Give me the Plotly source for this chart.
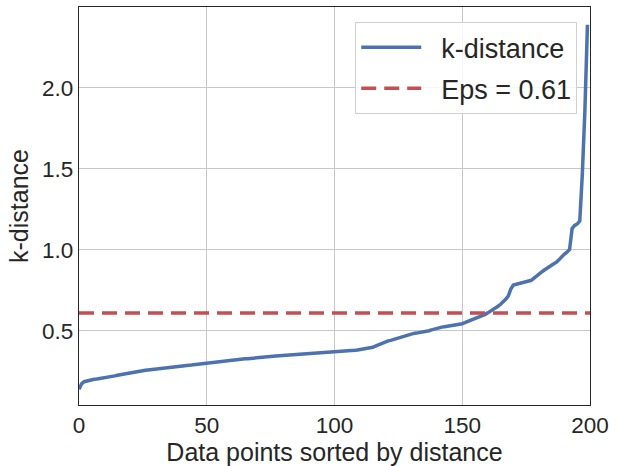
import numpy as np
import plotly.graph_objects as go

# Sorted k-nearest-neighbour distances, one per data point
k_distances = [
    0.140, 0.172, 0.186, 0.191, 0.196, 0.199, 0.201, 0.203, 0.205, 0.207,
    0.210, 0.213, 0.217, 0.219, 0.222, 0.226, 0.229, 0.234, 0.237, 0.240,
    0.242, 0.244, 0.246, 0.248, 0.251, 0.254, 0.256, 0.258, 0.260, 0.262,
    0.264, 0.267, 0.270, 0.272, 0.274, 0.276, 0.277, 0.279, 0.281, 0.283,
    0.284, 0.285, 0.287, 0.288, 0.289, 0.291, 0.292, 0.294, 0.295, 0.297,
    0.299, 0.302, 0.305, 0.308, 0.310, 0.312, 0.313, 0.314, 0.316, 0.318,
    0.319, 0.320, 0.321, 0.323, 0.325, 0.327, 0.328, 0.330, 0.331, 0.333,
    0.334, 0.336, 0.338, 0.340, 0.341, 0.342, 0.343, 0.344, 0.345, 0.346,
    0.347, 0.348, 0.349, 0.350, 0.351, 0.352, 0.353, 0.354, 0.355, 0.356,
    0.357, 0.358, 0.359, 0.360, 0.361, 0.362, 0.363, 0.364, 0.366, 0.368,
    0.369, 0.370, 0.371, 0.372, 0.373, 0.375, 0.376, 0.378, 0.380, 0.382,
    0.384, 0.386, 0.389, 0.392, 0.395, 0.399, 0.405, 0.412, 0.420, 0.428,
    0.434, 0.438, 0.441, 0.446, 0.451, 0.456, 0.462, 0.468, 0.474, 0.479,
    0.482, 0.484, 0.486, 0.488, 0.491, 0.494, 0.497, 0.501, 0.506, 0.511,
    0.516, 0.520, 0.523, 0.525, 0.527, 0.529, 0.531, 0.534, 0.537, 0.540,
    0.544, 0.550, 0.556, 0.562, 0.568, 0.573, 0.579, 0.586, 0.594, 0.602,
    0.611, 0.620, 0.630, 0.641, 0.652, 0.664, 0.678, 0.695, 0.714, 0.758,
    0.783, 0.788, 0.792, 0.797, 0.801, 0.805, 0.808, 0.812, 0.826, 0.840,
    0.851, 0.862, 0.874, 0.886, 0.897, 0.906, 0.916, 0.926, 0.944, 0.962,
    0.974, 0.986, 1.002, 1.132, 1.151, 1.160, 1.180, 1.470, 1.860, 2.390,
]
eps = 0.61
point_index = list(range(len(k_distances)))

x_ticks = [0, 50, 100, 150, 200]
y_ticks = [0.5, 1.0, 1.5, 2.0]

FONT = "Liberation Sans, Arial, sans-serif"
TEXT = "#262626"
PAD = "\u00a0\u00a0"  # spacing between legend sample and label

fig = go.Figure()
fig.add_trace(go.Scatter(
    x=point_index, y=k_distances, mode="lines", name=PAD + "k-distance",
    legendgroup="curve",
    line=dict(color="#4C72B0", width=3.5),
))
fig.add_trace(go.Scatter(
    x=[0, 200], y=[eps, eps], mode="lines", name=PAD + f"Eps = {eps}",
    legendgroup="eps",
    line=dict(color="#C44E52", width=3.5, dash="15px,8px"),
))

axis_common = dict(
    showline=True, linecolor="#262626", linewidth=1.2, mirror=True,
    showgrid=True, gridcolor="#c8c8c8", gridwidth=1,
    zeroline=False, ticks="",
    tickfont=dict(family=FONT, size=22.5, color=TEXT),
    title_font=dict(family=FONT, size=25, color=TEXT),
)

fig.update_xaxes(
    range=[0, 200], tickvals=x_ticks, ticktext=[str(v) for v in x_ticks],
    title_text="Data points sorted by distance", title_standoff=2,
    **axis_common,
)
fig.update_yaxes(
    range=[0.042, 2.5], tickvals=y_ticks, ticktext=[f"{v:.1f}" for v in y_ticks],
    title_text="k-distance", title_standoff=6,
    **axis_common,
)

fig.update_layout(
    width=622, height=466,
    margin=dict(l=79, r=32, t=7, b=61),
    plot_bgcolor="white", paper_bgcolor="white",
    font=dict(family=FONT, size=22.5, color=TEXT),
    legend=dict(
        x=0.975, y=0.962, xanchor="right", yanchor="top",
        bgcolor="rgba(255,255,255,0.85)", bordercolor="#d0d0d0", borderwidth=1,
        font=dict(family=FONT, size=27, color=TEXT),
        itemwidth=60, tracegroupgap=3,
    ),
)

fig.write_html("out.html")
